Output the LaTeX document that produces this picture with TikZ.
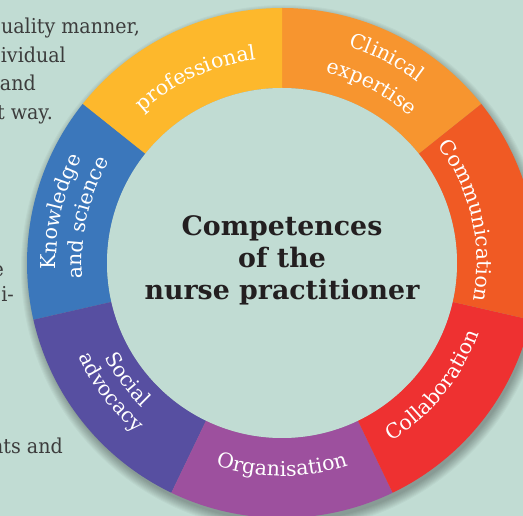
\documentclass[tikz,border=0pt]{standalone}
\usepackage{fontspec}
\usepackage{xcolor}
\usetikzlibrary{decorations.text, positioning}
\setmainfont{DejaVu Serif}
\newfontfamily\bodyface[FakeStretch=0.93]{DejaVu Serif}

\definecolor{bgmint}{HTML}{C1DCD3}
\definecolor{bodygray}{HTML}{3C3C3C}
\definecolor{titleink}{HTML}{231F20}
\definecolor{cclin}{HTML}{F7952F}
\definecolor{cprof}{HTML}{FDB82C}
\definecolor{cknow}{HTML}{3B77BB}
\definecolor{csoc}{HTML}{574FA1}
\definecolor{corg}{HTML}{9D509E}
\definecolor{ccoll}{HTML}{EE3131}
\definecolor{ccomm}{HTML}{F05A24}

\newcommand{\lblfont}{\fontsize{20.5}{22}\selectfont\color{white}}

\begin{document}
\begin{tikzpicture}[x=1pt, y=1pt,
    body/.style={anchor=base east, inner sep=0pt, text=bodygray, font=\bodyface\fontsize{20.5}{22}\selectfont},
    title/.style={align=center, inner sep=0pt, text=titleink, font=\fontsize{26.8}{32}\selectfont\bfseries},
    curvetext/.style={decorate, decoration={text along path, text align=center, text={|\lblfont|#1}}}]
        \fill[bgmint] (0,0) rectangle (523,516);
        \useasboundingbox (0,0) rectangle (523,516);
        \clip (0,0) rectangle (523,516);

        % cut-off paragraph text on the left
        \node[body] (p1) at (140,482) {uality manner,};
        \node[body] (p2) at (66,453.5) {ividual};
        \node[body] (p3) at (36,425) {and};
        \node[body] (p4) at (53,396.5) {t way.};
        \node[body] (p5) at (4,239) {e};
        \node[body] (p6) at (14,214) {i-};
        \node[body] (p7) at (63,62) {nts and};

        \coordinate (c) at (282,253);
        \begin{scope}[shift={(c)}]
        % soft shadow
        \foreach \k in {0,...,9}
        \fill[black, opacity=0.03] (2,-5) circle[radius={(254+\k)*1pt}];

        % ring segments
        \foreach \i/\col in {0/cclin, 1/cprof, 2/cknow, 3/csoc, 4/corg, 5/ccoll, 6/ccomm}
        \fill[\col] ({38.571+\i*51.4286}:255pt)
            arc[start angle={38.571+\i*51.4286}, delta angle=51.4286, radius=255pt]
            -- ({38.571+(\i+1)*51.4286}:175pt)
            arc[start angle={38.571+(\i+1)*51.4286}, delta angle=-51.4286, radius=175pt] -- cycle;
        \fill[bgmint] (0,0) circle[radius=175pt];

        \node[title] (title) at (0,3) {Competences\\of the\\nurse practitioner};

        % labels, upper half (tops outward)
        \path[curvetext=professional] (160:205pt) arc[start angle=160, end angle=70, radius=205pt];
        \path[curvetext=Clinical] (108:226pt) arc[start angle=108, end angle=18, radius=226pt];
        \path[curvetext=expertise] (108:195pt) arc[start angle=108, end angle=18, radius=195pt];
        \path[curvetext=Communication] (58:195pt) arc[start angle=58, end angle=-32, radius=195pt];
        \path[curvetext=Knowledge] (212:226pt) arc[start angle=212, end angle=122, radius=226pt];
        \path[curvetext=and science] (212:200pt) arc[start angle=212, end angle=122, radius=200pt];

        % labels, lower half (tops inward)
        \path[curvetext=Collaboration] (-84:209pt) arc[start angle=-84, end angle=6, radius=209pt];
        \path[curvetext=Organisation] (-135:213pt) arc[start angle=-135, end angle=-45, radius=213pt];
        \path[curvetext=Social] (-188:201pt) arc[start angle=-188, end angle=-98, radius=201pt];
        \path[curvetext=advocacy] (-188:224pt) arc[start angle=-188, end angle=-98, radius=224pt];
        \end{scope}
      \end{tikzpicture}
\end{document}
